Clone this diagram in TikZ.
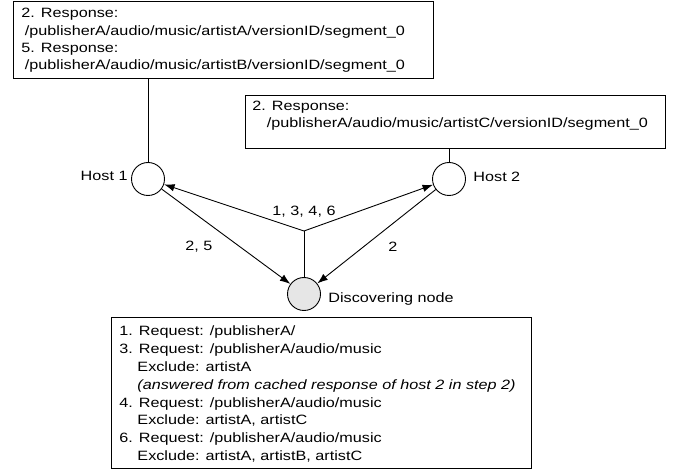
\documentclass[tikz,border=0pt]{standalone}
\usepackage{fontspec}
\setmainfont{Liberation Sans}[FakeStretch=1.2]
\usetikzlibrary{arrows.meta}
\begin{document}
\begin{tikzpicture}[x=1pt,y=-1pt,
  font=\fontsize{13.5}{16}\selectfont,
  line width=0.9pt,
  box/.style={draw, rectangle, anchor=north west, inner sep=0},
  txt/.style={anchor=base west, inner sep=0},
  lbl/.style={inner sep=0},
  hostc/.style={draw, circle, minimum size=33, inner sep=0, fill=white},
  arr/.style={-{Latex[length=10.5pt,width=7.5pt]}}]
\useasboundingbox (0,0) rectangle (678,470);

% top-left box
\node[box, minimum width=420, minimum height=77] (topbox) at (13,1) {};
\node[txt] (ta1) at (21,18) {2. Response:};
\node[txt] (ta2) at (24.5,35.5) {/publisherA/audio/music/artistA/versionID/segment\_0};
\node[txt] (ta3) at (21,52.8) {5. Response:};
\node[txt] (ta4) at (24.5,70) {/publisherA/audio/music/artistB/versionID/segment\_0};

% right box
\node[box, minimum width=420, minimum height=53] (rbox) at (245,95) {};
\node[txt] (tb1) at (252,110.5) {2. Response:};
\node[txt] (tb2) at (266.5,127.5) {/publisherA/audio/music/artistC/versionID/segment\_0};

% bottom box
\node[box, minimum width=420, minimum height=151] (bbox) at (111,317) {};
\node[txt] (tc1) at (119,336) {1. Request: /publisherA/};
\node[txt] (tc2) at (119,353.8) {3. Request: /publisherA/audio/music};
\node[txt] (tc3) at (137,371.6) {Exclude: artistA};
\node[txt] (tc4) at (137,389.4) {\itshape (answered from cached response of host 2 in step 2)};
\node[txt] (tc5) at (119,407.2) {4. Request: /publisherA/audio/music};
\node[txt] (tc6) at (137,425) {Exclude: artistA, artistC};
\node[txt] (tc7) at (119,442.8) {6. Request: /publisherA/audio/music};
\node[txt] (tc8) at (137,460.6) {Exclude: artistA, artistB, artistC};

% hosts
\node[hostc] (h1) at (148,179) {};
\node[hostc] (h2) at (449,179) {};
\node[hostc, fill={rgb,255:red,230;green,230;blue,230}] (disc) at (304,294) {};
\coordinate (j) at (304,231);

\node[lbl, anchor=east] (lh1) at (128,176) {Host 1};
\node[lbl, anchor=west] (lh2) at (473,177) {Host 2};
\node[lbl, anchor=west] (ldisc) at (328,299) {Discovering node};
\node[lbl] (l1346) at (304,212) {1, 3, 4, 6};
\node[lbl] (l25) at (199,247) {2, 5};
\node[lbl] (l2) at (393,247) {2};

% connectors
\draw (h1.north |- topbox.south) -- (h1.north);
\draw (h2.north |- rbox.south) -- (h2.north);
\draw[arr] (j) -- (h1);
\draw[arr] (j) -- (h2);
\draw (j) -- (disc.north);
\draw[arr] (h1) -- (disc);
\draw[arr] (h2) -- (disc);
\end{tikzpicture}
\end{document}
